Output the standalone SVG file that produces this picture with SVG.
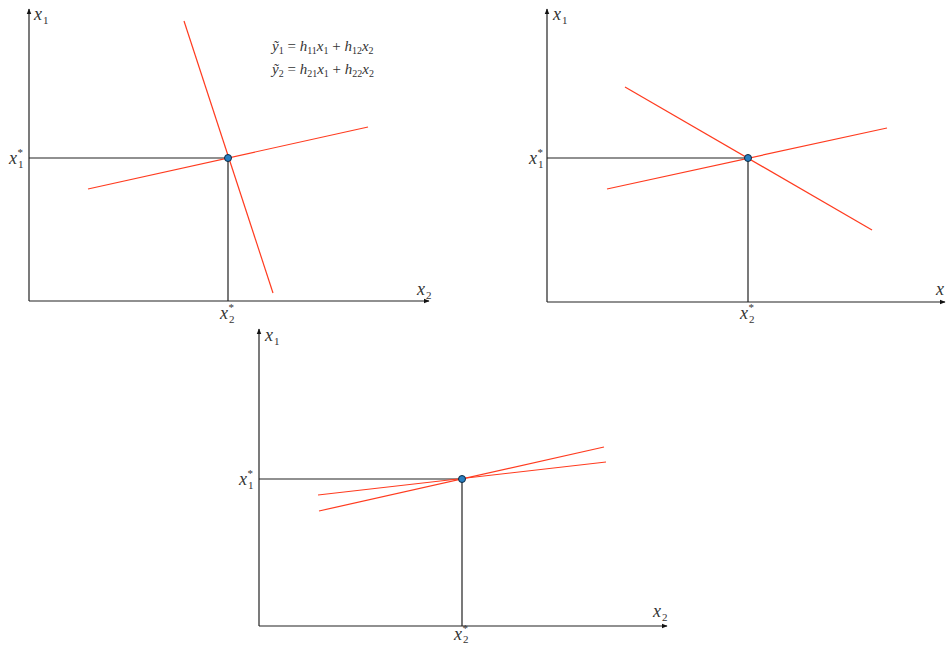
<svg xmlns="http://www.w3.org/2000/svg" width="946" height="646" viewBox="0 0 946 646">
<style>
.ax{stroke:#222;stroke-width:1.2;fill:none}
.gd{stroke:#222;stroke-width:1.2;fill:none}
.rl{stroke:#ff3b1f;stroke-width:1.2;fill:none}
.pt{fill:#2a7fc0;stroke:#0b2a44;stroke-width:1}
text{fill:#333;font-family:'Liberation Serif','DejaVu Serif',serif}
.v{font-style:italic;font-size:18px}
.s{font-style:normal;font-size:11px}
.eq{font-size:15px}
</style>
<defs>
<marker id="ah" viewBox="0 0 10 10" refX="9" refY="5" markerWidth="6" markerHeight="6" orient="auto" markerUnits="userSpaceOnUse">
<path d="M0,1 L10,5 L0,9 z" fill="#111"/>
</marker>
</defs>
<g id="connectors">
<path class="ax" d="M29,301 L29,9" marker-end="url(#ah)"/>
<path class="ax" d="M29,301 L429,301" marker-end="url(#ah)"/>
<path class="gd" d="M29,158 L228,158 L228,301"/>
<path class="rl" d="M184,21 L273,293"/>
<path class="rl" d="M88,189 L368,127"/>
<path class="ax" d="M547,302 L547,9" marker-end="url(#ah)"/>
<path class="ax" d="M547,302 L945,302" marker-end="url(#ah)"/>
<path class="gd" d="M547,158 L748,158 L748,302"/>
<path class="rl" d="M625,87 L872,230"/>
<path class="rl" d="M607,189 L887,128"/>
<path class="ax" d="M259,626 L259,329" marker-end="url(#ah)"/>
<path class="ax" d="M259,626 L667,626" marker-end="url(#ah)"/>
<path class="gd" d="M259,479 L462,479 L462,626"/>
<path class="rl" d="M319,511 L604,447"/>
<path class="rl" d="M318,495 L606,462"/>
</g>
<g id="node-p1">
<circle class="pt" cx="228" cy="158" r="3.5"/>
</g>
<g id="node-p2">
<circle class="pt" cx="748" cy="158" r="3.5"/>
</g>
<g id="node-p3">
<circle class="pt" cx="462" cy="479" r="3.5"/>
</g>
<g id="labels-1">
<text class="v" x="34" y="20">x<tspan class="s" dx="1" dy="4">1</tspan></text>
<text class="v" x="9" y="164">x<tspan class="s" dx="1" dy="4">1</tspan><tspan class="s" dx="-6" dy="-12">*</tspan></text>
<text class="v" x="417" y="295">x<tspan class="s" dx="1" dy="4">2</tspan></text>
<text class="v" x="220" y="319">x<tspan class="s" dx="1" dy="4">2</tspan><tspan class="s" dx="-6" dy="-12">*</tspan></text>
<text class="eq" x="272" y="51"><tspan font-style="italic">ỹ</tspan><tspan font-size="10" dy="3">1</tspan><tspan dy="-3"> = </tspan><tspan font-style="italic">h</tspan><tspan font-size="10" dy="3">11</tspan><tspan font-style="italic" dy="-3">x</tspan><tspan font-size="10" dy="3">1</tspan><tspan dy="-3"> + </tspan><tspan font-style="italic">h</tspan><tspan font-size="10" dy="3">12</tspan><tspan font-style="italic" dy="-3">x</tspan><tspan font-size="10" dy="3">2</tspan></text>
<text class="eq" x="272" y="74"><tspan font-style="italic">ỹ</tspan><tspan font-size="10" dy="3">2</tspan><tspan dy="-3"> = </tspan><tspan font-style="italic">h</tspan><tspan font-size="10" dy="3">21</tspan><tspan font-style="italic" dy="-3">x</tspan><tspan font-size="10" dy="3">1</tspan><tspan dy="-3"> + </tspan><tspan font-style="italic">h</tspan><tspan font-size="10" dy="3">22</tspan><tspan font-style="italic" dy="-3">x</tspan><tspan font-size="10" dy="3">2</tspan></text>
</g>
<g id="labels-2">
<text class="v" x="553" y="20">x<tspan class="s" dx="1" dy="4">1</tspan></text>
<text class="v" x="529" y="164">x<tspan class="s" dx="1" dy="4">1</tspan><tspan class="s" dx="-6" dy="-12">*</tspan></text>
<text class="v" x="936" y="295">x</text>
<text class="v" x="740" y="319">x<tspan class="s" dx="1" dy="4">2</tspan><tspan class="s" dx="-6" dy="-12">*</tspan></text>
</g>
<g id="labels-3">
<text class="v" x="265" y="341">x<tspan class="s" dx="1" dy="4">1</tspan></text>
<text class="v" x="239" y="485">x<tspan class="s" dx="1" dy="4">1</tspan><tspan class="s" dx="-6" dy="-12">*</tspan></text>
<text class="v" x="653" y="617">x<tspan class="s" dx="1" dy="4">2</tspan></text>
<text class="v" x="454" y="640">x<tspan class="s" dx="1" dy="3">2</tspan><tspan class="s" dx="-6" dy="-11">*</tspan></text>
</g>
</svg>
